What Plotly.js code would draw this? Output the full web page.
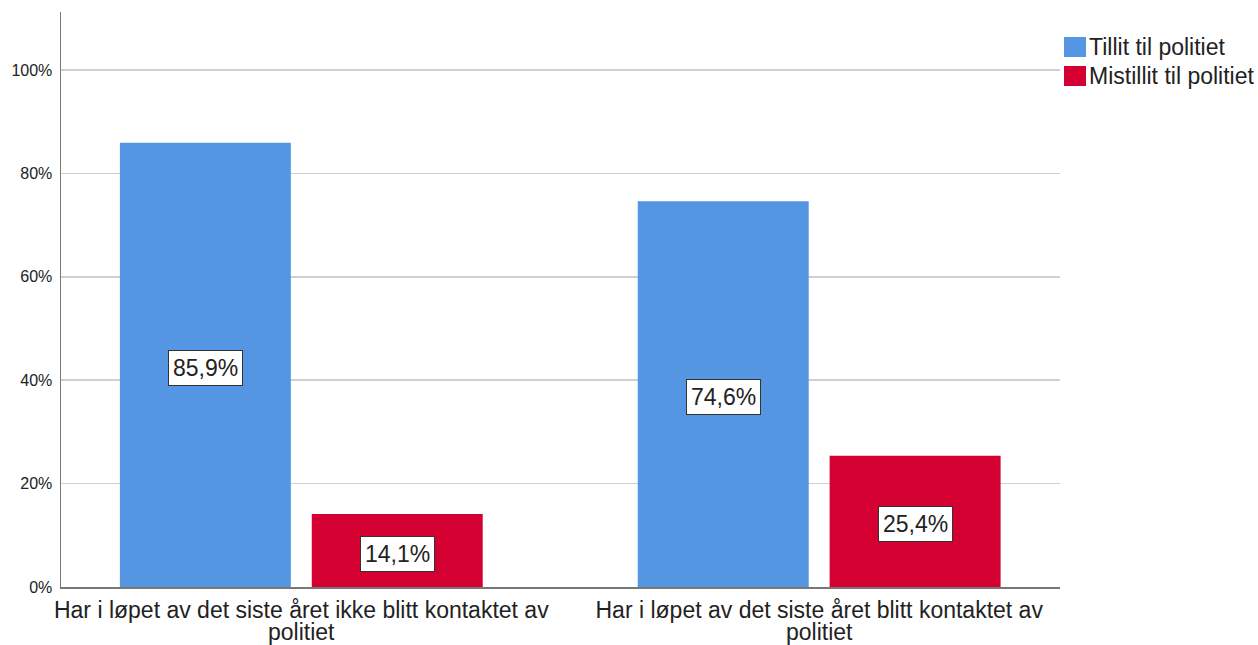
<!DOCTYPE html>
<html>
<head>
<meta charset="utf-8">
<script src="https://cdn.plot.ly/plotly-3.0.1.min.js"></script>
<style>html,body{margin:0;padding:0;background:#fff;}#chart{width:1258px;height:645px;}</style>
</head>
<body>
<div id="chart"></div>
<script>
// ---- data ----
const categories = [
  "Har i løpet av det siste året ikke blitt kontaktet av<br>politiet",
  "Har i løpet av det siste året blitt kontaktet av<br>politiet"
];
const seriesNames = ["Tillit til politiet", "Mistillit til politiet"];
const tillit = [85.9, 74.6];
const mistillit = [14.1, 25.4];
const yTickVals = [0, 20, 40, 60, 80, 100];
const yTickText = ["0%", "20%", "40%", "60%", "80%", "100%"];

// ---- style ----
const colors = ["#5596e2", "#d50032"];
const FONT = "Liberation Sans, Arial, sans-serif";
const TEXTCOL = "#222";
const bargap = 0.259;
const bargroupgap = 0.109;
const ML = 61, MR = 198, MT = 12, MB = 58, W = 1258, H = 645;
const PW = W - ML - MR, PH = H - MT - MB;
const px2x = p => (p - ML) / PW;
const py2y = p => (H - MB - p) / PH;

const seriesValues = [tillit, mistillit];
const traces = seriesValues.map((vals, i) => ({
  type: "bar", x: categories, y: vals, name: seriesNames[i],
  marker: {color: colors[i]}, hoverinfo: "skip"
}));

const annotations = [];
const shapes = [];

// data labels, centred in each bar
const slot = (1 - bargap) / seriesValues.length;
seriesValues.forEach((vals, i) => {
  vals.forEach((v, j) => {
    annotations.push({
      x: j - (1 - bargap) / 2 + slot * (i + 0.5), y: v / 2, xref: "x", yref: "y",
      yshift: -3,
      text: v.toFixed(1).replace(".", ",") + "%", showarrow: false,
      font: {family: FONT, size: 23, color: TEXTCOL},
      bgcolor: "#ffffff", bordercolor: "#333333", borderwidth: 1, borderpad: 4
    });
  });
});

// second line of each category label
categories.forEach((c, j) => {
  const parts = c.split("<br>");
  if (parts.length > 1) {
    annotations.push({
      x: j, xref: "x", y: 0, yref: "paper", yanchor: "middle", yshift: -45,
      text: parts.slice(1).join(" "), showarrow: false, borderpad: 0,
      font: {family: FONT, size: 23, color: TEXTCOL}
    });
  }
});

// legend (drawn manually to match the square swatches)
const legendRows = [[37, 57, 47], [66, 86, 76]];
seriesNames.forEach((nm, i) => {
  const [t, b, c] = legendRows[i];
  shapes.push({
    type: "rect", xref: "paper", yref: "paper",
    x0: px2x(1064), x1: px2x(1086), y0: py2y(b), y1: py2y(t),
    fillcolor: colors[i], line: {width: 0}
  });
  annotations.push({
    xref: "paper", yref: "paper", x: px2x(1087), y: py2y(c),
    xanchor: "left", yanchor: "middle", text: nm, showarrow: false,
    font: {family: FONT, size: 23, color: TEXTCOL}
  });
});

const layout = {
  width: W, height: H,
  margin: {l: ML, r: MR, t: MT, b: MB},
  paper_bgcolor: "#fff", plot_bgcolor: "#fff",
  font: {family: FONT, color: TEXTCOL},
  barmode: "group", bargap: bargap, bargroupgap: bargroupgap,
  showlegend: false,
  xaxis: {
    type: "category", range: [-0.464, 1.465], showgrid: false, zeroline: false,
    showline: true, linecolor: "#777", linewidth: 1.5, ticks: "",
    tickvals: categories, ticktext: categories.map(c => c.split("<br>")[0]),
    ticklabelstandoff: 2,
    tickfont: {family: FONT, size: 23, color: TEXTCOL}
  },
  yaxis: {
    range: [0, 111.2], tickvals: yTickVals, ticktext: yTickText,
    showgrid: true, gridcolor: "#cfcfcf", gridwidth: 1.5, zeroline: false,
    showline: true, linecolor: "#777", linewidth: 1.5, ticks: "",
    ticklabelstandoff: 4,
    tickfont: {family: FONT, size: 16, color: TEXTCOL}
  },
  annotations: annotations,
  shapes: shapes
};

Plotly.newPlot("chart", traces, layout, {displayModeBar: false, staticPlot: true});
</script>
</body>
</html>
